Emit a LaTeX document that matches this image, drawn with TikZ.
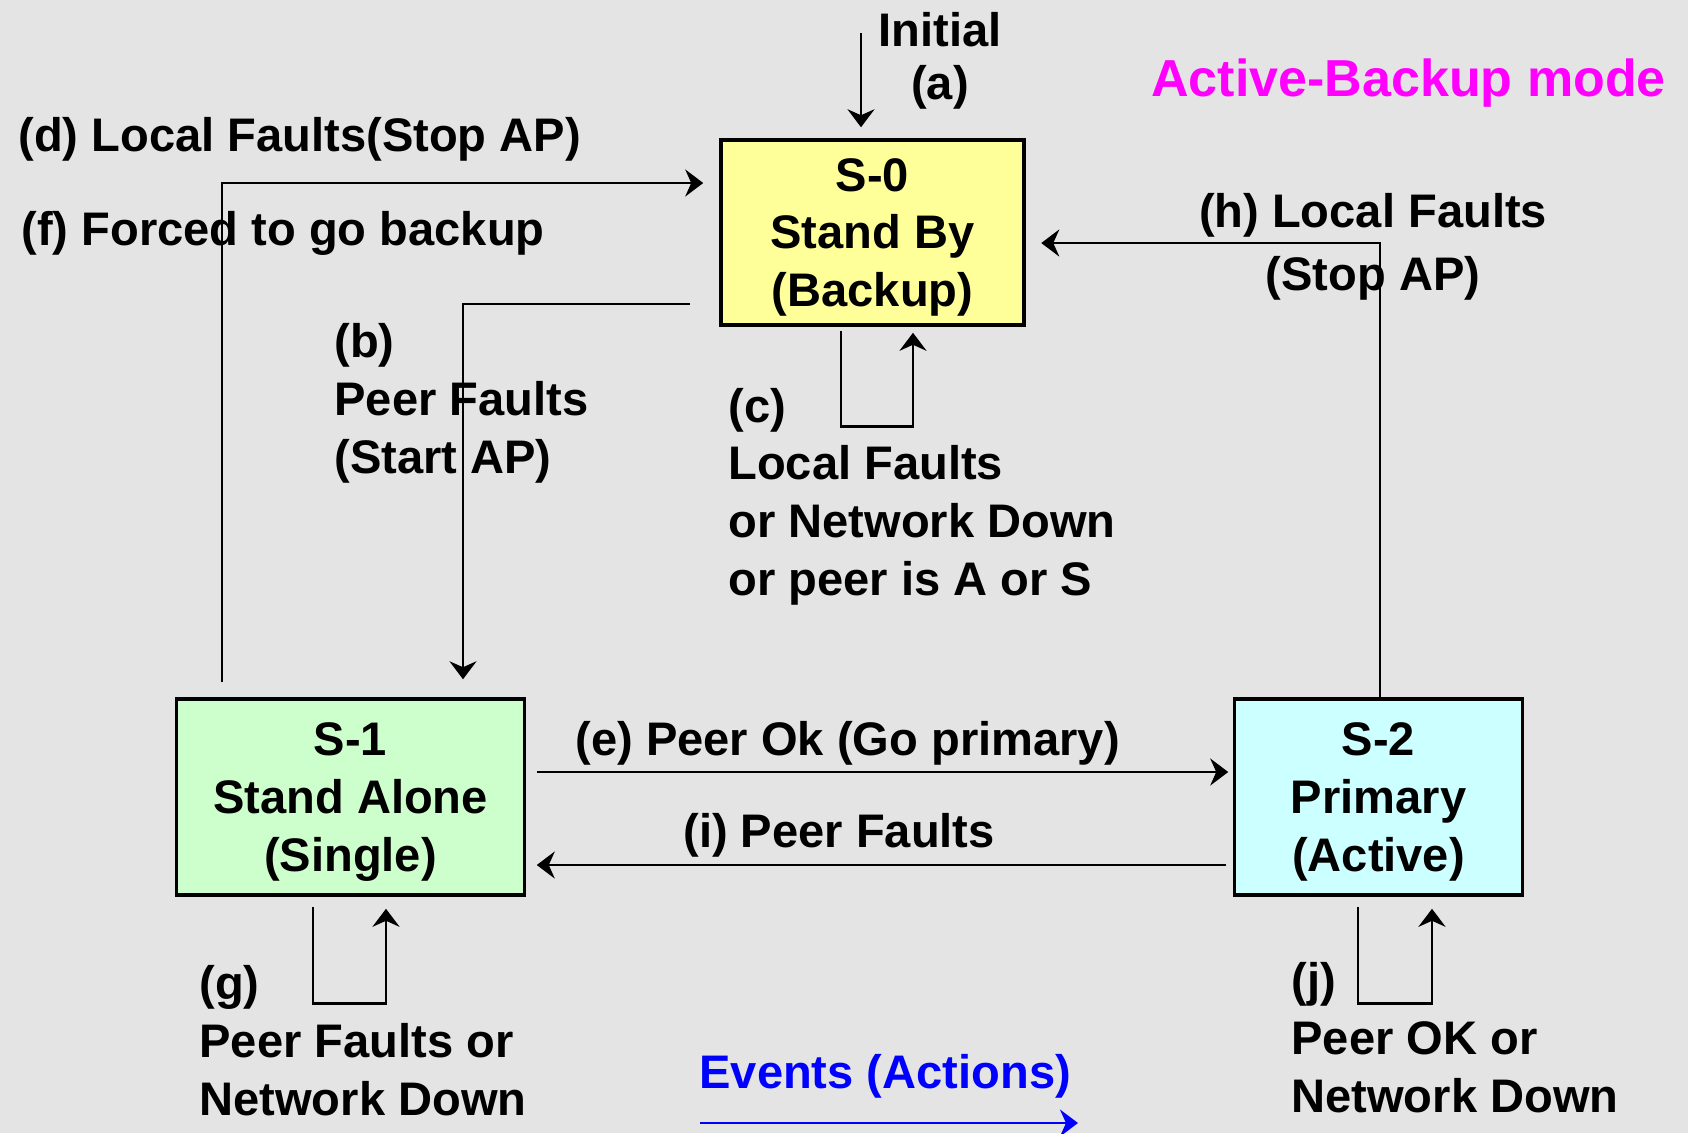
\documentclass[tikz,border=0pt]{standalone}
\usepackage{fontspec}
\setmainfont{Liberation Sans}
\usepackage{tikz}
\usetikzlibrary{positioning,arrows.meta,calc}
\definecolor{stonebg}{HTML}{E4E4E4}
\definecolor{backupyellow}{HTML}{FFFF99}
\definecolor{singlegreen}{HTML}{CCFFCC}
\definecolor{activecyan}{HTML}{CCFFFF}
\definecolor{modemagenta}{HTML}{FF00FF}
\definecolor{eventblue}{HTML}{0000FF}

\begin{document}
\begin{tikzpicture}[
  state/.style={draw, line width=1pt, align=center, inner sep=0pt, text depth=0pt,
                font=\bfseries\fontsize{13.4}{16.4}\selectfont},
  lbl/.style={inner sep=0pt, align=left, anchor=base west,
              font=\bfseries\fontsize{13.4}{16.4}\selectfont},
  line width=0.8pt,
  >={Stealth[length=1.8mm, width=2.7mm, inset=0.6mm]}
]
\useasboundingbox (0,0) rectangle (16.88,-11.33);
\fill[stonebg] (0,0) rectangle (16.88,-11.33);

% states
\node[state, fill=backupyellow, minimum width=3.03cm, minimum height=1.85cm] (s0) at (8.725,-2.325) {S-0\\Stand By\\(Backup)};
\node[state, fill=singlegreen, minimum width=3.48cm, minimum height=1.96cm] (s1) at (3.505,-7.97) {S-1\\Stand Alone\\(Single)};
\node[state, fill=activecyan, minimum width=2.88cm, minimum height=1.96cm] (s2) at (13.785,-7.97) {S-2\\Primary\\(Active)};

% initial transition
\coordinate (init) at (8.61,-0.33);
\draw[->, shorten >=1.1mm] (init) -- (init |- s0.north);
\node[lbl, align=center, anchor=base] (inittxt) at (9.40,-0.99) {Initial\\[-1.5pt](a)};

% transitions
\draw[->, shorten <=1.5mm, shorten >=1.6mm] ([xshift=-12.85mm]s1.north) |- ([yshift=4.95mm]s0.west);
\draw[->, shorten <=2.9mm, shorten >=1.8mm] ([yshift=-7.15mm]s0.west) -| ([xshift=11.25mm]s1.north);
\draw[->, shorten <=0.4mm, shorten >=0.6mm] ([xshift=-3.15mm]s0.south) -- ++(0,-1.0) -| ([xshift=4.05mm]s0.south);
\draw[->, shorten >=1.55mm] ([xshift=0.15mm]s2.north) |- ([yshift=-1.05mm]s0.east);
\draw[->, shorten <=1.05mm, shorten >=0.45mm] ([yshift=2.5mm]s1.east) -- ([yshift=2.5mm]s2.west);
\draw[->, shorten <=0.65mm, shorten >=1.05mm] ([yshift=-6.8mm]s2.west) -- ([yshift=-6.8mm]s1.east);
\draw[->, shorten <=1mm, shorten >=1.2mm] ([xshift=-3.75mm]s1.south) -- ++(0,-1.07) -| ([xshift=3.55mm]s1.south);
\draw[->, shorten <=1mm, shorten >=1.2mm] ([xshift=-2.05mm]s2.south) -- ++(0,-1.07) -| ([xshift=5.35mm]s2.south);

% event labels
\node[lbl] (dlbl) at (0.17,-1.51) {(d) Local Faults(Stop AP)};
\node[lbl] (flbl) at (0.20,-2.45) {(f) Forced to go backup};
\node[lbl] (blbl) at (3.33,-4.73) {(b)\\Peer Faults\\(Start AP)};
\node[lbl] (clbl) at (7.27,-5.95) {(c)\\Local Faults\\or Network Down\\or peer is A or S};
\node[lbl, align=center, anchor=base] (hlbl) at (13.73,-2.90) {(h) Local Faults\\[1.5pt](Stop AP)};
\node[lbl] (elbl) at (5.74,-7.55) {(e) Peer Ok (Go primary)};
\node[lbl] (ilbl) at (6.82,-8.47) {(i) Peer Faults};
\node[lbl] (glbl) at (1.98,-11.15) {(g)\\Peer Faults or\\Network Down};
\node[lbl] (jlbl) at (12.90,-11.12) {(j)\\Peer OK or\\Network Down};

% title and legend
\node[lbl, text=modemagenta, font=\bfseries\fontsize{14.8}{18}\selectfont] (mode) at (11.50,-0.96) {Active-Backup mode};
\node[lbl, text=eventblue] (events) at (6.98,-10.88) {Events (Actions)};
\coordinate (evstart) at (7.00,-11.23);
\coordinate (evend) at (10.78,-11.23);
\draw[->, eventblue] (evstart) -- (evend);
\end{tikzpicture}
\end{document}
